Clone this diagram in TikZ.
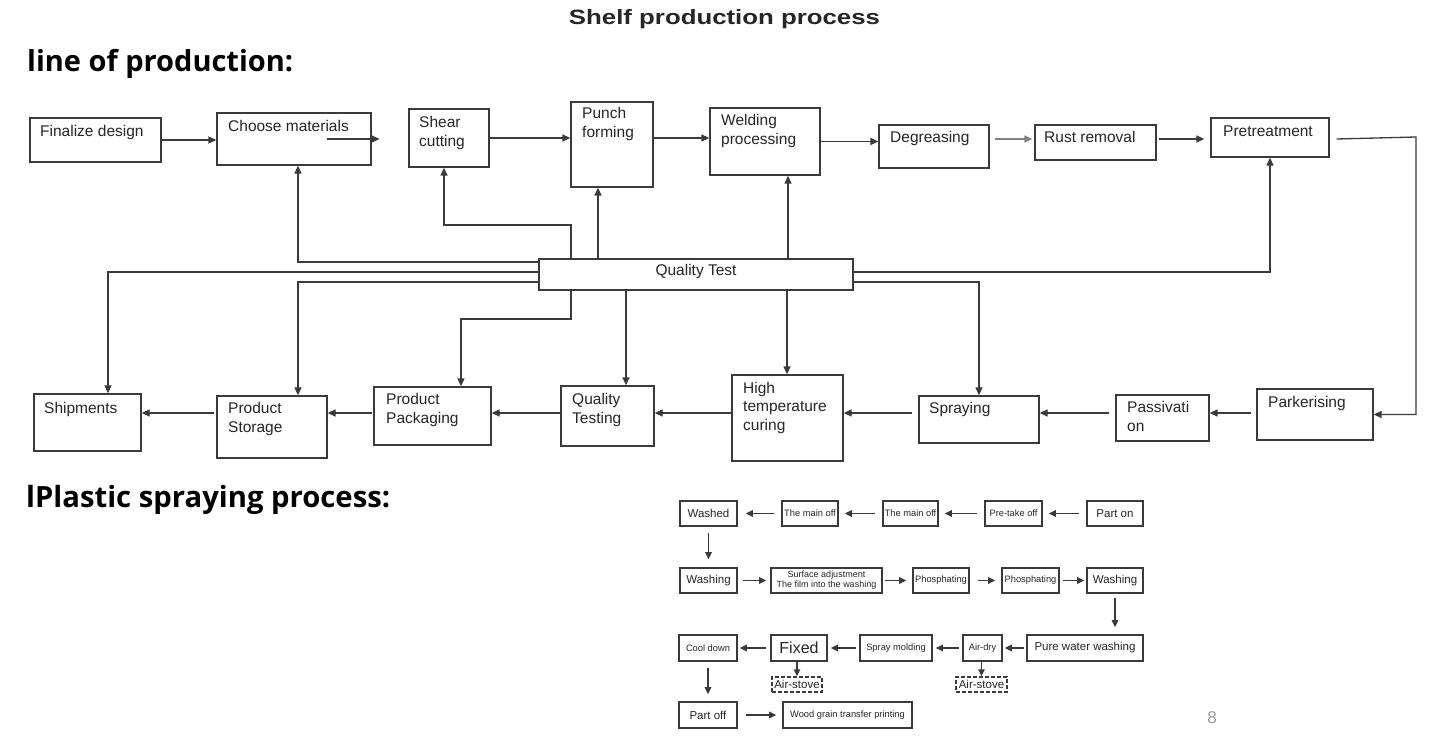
\documentclass[tikz,border=0pt]{standalone}
\usepackage{graphicx}
\usepackage{fontspec}
\setmainfont{Liberation Sans}
\newfontfamily\hdfont{Open Sans}
\usetikzlibrary{arrows.meta,fit,calc}
\definecolor{ln}{HTML}{3A3A3A}
\definecolor{tx}{HTML}{262626}
\definecolor{pg}{HTML}{9A9A9A}
\newcommand\twol[2]{\vtop{\baselineskip=19pt\hbox{#1}\hbox{#2}}}
\newcommand\threel[3]{\vtop{\baselineskip=18.5pt\hbox{#1}\hbox{#2}\hbox{#3}}}
\begin{document}
\begin{tikzpicture}[x=1pt,y=-1pt,
  box/.style={draw=ln, line width=1.3pt, inner sep=0pt},
  txt/.style={anchor=base west, inner sep=0pt, text=tx, font=\fontsize{15.5}{19}\selectfont},
  arr/.style={draw=ln, line width=1.3pt, -{Triangle[length=8pt,width=7pt]}},
  garr/.style={draw=gray, line width=1.3pt, -{Triangle[length=8pt,width=7pt]}},
  sbox/.style={draw=ln, line width=1.7pt, inner sep=0pt, text=tx},
  dbox/.style={draw=ln, line width=1.5pt, dash pattern=on 4pt off 2pt, inner sep=0pt, text=tx, font=\fontsize{11.5}{13}\selectfont, minimum height=15pt},
  sarr/.style={draw=ln, line width=1.3pt, -{Triangle[length=7pt,width=6.5pt]}},
  fA/.style={font=\fontsize{11.5}{13}\selectfont},
  fB/.style={font=\fontsize{9.3}{10}\selectfont},
  rA/.style={minimum height=25pt},
  rB/.style={minimum height=26pt},
]
\fill[white] (0,0) rectangle (1433,746);
\useasboundingbox (0,0) rectangle (1433,746);

% headings
\node[anchor=base, inner sep=0pt, text=tx] (title) at (724.5,25) {\resizebox{311pt}{15pt}{\bfseries Shelf production process}};
\node[anchor=base west, inner sep=0pt, text=black] (h1) at (27,72) {\resizebox{266pt}{!}{\fontsize{28}{30}\hdfont\bfseries line of production:}};
\node[anchor=base west, inner sep=0pt, text=black] (h2) at (26,507) {\resizebox{364pt}{!}{\fontsize{28}{30}\hdfont\bfseries lPlastic spraying process:}};

% top row
\node[box, fit={(30,118) (161,162)}] (fin) {};
\node[txt] (fin-t) at (40,137) {Finalize design};
\node[box, fit={(217,113) (371,165)}] (cho) {};
\node[txt] (cho-t) at (228,132) {Choose materials};
\node[box, fit={(409,109) (489,167)}] (she) {};
\node[txt] (she-t) at (419,128) {\twol{Shear}{cutting}};
\node[box, fit={(571,102) (653,187)}] (pun) {};
\node[txt] (pun-t) at (582,119) {\twol{Punch}{forming}};
\node[box, fit={(710,108) (820,175)}] (wel) {};
\node[txt] (wel-t) at (721,126) {\twol{Welding}{processing}};
\node[box, fit={(879,125) (989,168)}] (deg) {};
\node[txt] (deg-t) at (890,143) {Degreasing};
\node[box, fit={(1035,125) (1156,160)}] (rus) {};
\node[txt] (rus-t) at (1044,143) {Rust removal};
\node[box, fit={(1211,118) (1329,157)}] (pre) {};
\node[txt] (pre-t) at (1223,137) {Pretreatment};

% quality test
\node[box, fit={(539,259) (853,290)}] (qt) {};
\node[txt, anchor=base] (qt-t) at (696,276) {Quality Test};

% bottom row
\node[box, fit={(34,394) (141,451)}] (shi) {};
\node[txt] (shi-t) at (44,413) {Shipments};
\node[box, fit={(217,396) (327,458)}] (sto) {};
\node[txt] (sto-t) at (228,413) {\twol{Product}{Storage}};
\node[box, fit={(374,387) (491,445)}] (pac) {};
\node[txt] (pac-t) at (386,404) {\twol{Product}{Packaging}};
\node[box, fit={(561,386) (654,446)}] (qts) {};
\node[txt] (qts-t) at (572,404) {\twol{Quality}{Testing}};
\node[box, fit={(732,375) (843,461)}] (htc) {};
\node[txt] (htc-t) at (743,393) {\threel{High}{temperature}{curing}};
\node[box, fit={(919,396) (1039,443)}] (spr) {};
\node[txt] (spr-t) at (929,413) {Spraying};
\node[box, fit={(1116,395) (1209,441)}] (pas) {};
\node[txt] (pas-t) at (1127,412) {\twol{Passivati}{on}};
\node[box, fit={(1257,389) (1373,440)}] (par) {};
\node[txt] (par-t) at (1268,407) {Parkerising};

% top row arrows
\coordinate (ar) at (0,139);
\draw[arr] (fin.east) -- (cho.west |- fin.east);
\draw[arr] ($(cho.east)+(-45,0)$) -- ($(cho.east)+(8,0)$);
\draw[arr] (she.east) -- (pun.west |- she.east);
\draw[arr] (pun.east |- she.east) -- (wel.west |- she.east);
\draw[arr] (wel.east) -- (deg.west |- wel.east);
\draw[garr] ($(deg.east |- ar)+(5,0)$) -- ($(rus.west |- ar)+(-2,0)$);
\draw[arr] ($(rus.east |- ar)+(2,0)$) -- ($(pre.west |- ar)+(-6,0)$);
\coordinate (rc) at (1416,137);
\draw[arr] ($(pre.east |- ar)+(7,0)$) -- (rc) |- (par.east);

% quality test connectors
\coordinate (l1) at (298,262);
\coordinate (l2) at (108,272);
\coordinate (l3) at (298,282);
\draw[arr] (qt.west |- l1) -| (cho.south -| l1);
\draw[arr] (qt.west |- l2) -| (shi.north -| l2);
\draw[arr] (qt.west |- l3) -| (sto.north -| l3);
\coordinate (t1) at (571,225);
\coordinate (t1b) at (444,225);
\coordinate (t2) at (598,0);
\coordinate (t3) at (788,0);
\draw[arr] (qt.north -| t1) -- (t1) -- (t1b) -- (she.south -| t1b);
\draw[arr] (qt.north -| t2) -- (pun.south -| t2);
\draw[arr] (qt.north -| t3) -- (wel.south -| t3);
\coordinate (b1) at (571,319);
\coordinate (b1b) at (461,319);
\coordinate (b2) at (626,0);
\coordinate (b3) at (787,0);
\draw[arr] (qt.south -| b1) -- (b1) -- (b1b) -- (pac.north -| b1b);
\draw[arr] (qt.south -| b2) -- (qts.north -| b2);
\draw[arr] (qt.south -| b3) -- (htc.north -| b3);
\coordinate (r1) at (1270,272);
\coordinate (r2) at (979,282);
\draw[arr] (qt.east |- r1) -| (pre.south -| r1);
\draw[arr] (qt.east |- r2) -| (spr.north -| r2);

% bottom row arrows
\coordinate (by) at (0,413);
\draw[arr] ($(par.west |- by)+(-5,0)$) -- (pas.east |- by);
\draw[arr] ($(pas.west |- by)+(-6,0)$) -- (spr.east |- by);
\draw[arr] ($(spr.west |- by)+(-6,0)$) -- (htc.east |- by);
\draw[arr] (htc.west |- by) -- (qts.east |- by);
\draw[arr] (qts.west |- by) -- (pac.east |- by);
\draw[arr] ($(pac.west |- by)+(-1,0)$) -- (sto.east |- by);
\draw[arr] ($(sto.west |- by)+(-2,0)$) -- (shi.east |- by);

% plastic spraying process
\node[sbox, fA, rA, minimum width=57pt] (s-wd) at (708.5,513.5) {Washed};
\node[sbox, fB, rA, minimum width=56pt] (s-m1) at (810,513.5) {The main off};
\node[sbox, fB, rA, minimum width=55pt] (s-m2) at (910.5,513.5) {The main off};
\node[sbox, fB, rA, minimum width=57pt] (s-pt) at (1013.5,513.5) {Pre-take off};
\node[sbox, fA, rA, minimum width=56pt] (s-po) at (1115,513.5) {Part on};

\node[sbox, fA, rA, minimum width=57pt] (s-wg) at (708.5,580.5) {Washing};
\node[sbox, rA, minimum width=111pt, align=center, font=\fontsize{9}{9.8}\selectfont] (s-sa) at (826.5,580.5) {Surface adjustment\\The film into the washing};
\node[sbox, fB, rA, minimum width=56pt] (s-p1) at (941,580.5) {Phosphating};
\node[sbox, fB, rA, minimum width=57pt] (s-p2) at (1030.5,580.5) {Phosphating};
\node[sbox, fA, rA, minimum width=56pt] (s-w2) at (1115,580.5) {Washing};

\node[sbox, fB, rB, minimum width=58pt] (s-cd) at (708,648) {Cool down};
\node[sbox, rB, minimum width=56pt, font=\fontsize{16}{18}\selectfont] (s-fx) at (799,648) {Fixed};
\node[sbox, fB, rB, minimum width=72pt] (s-sm) at (896,648) {Spray molding};
\node[sbox, fB, rB, minimum width=39pt] (s-ad) at (982.5,648) {Air-dry};
\node[sbox, fA, rB, minimum width=116pt] (s-pw) at (1085,648) {Pure water washing};

\node[dbox, minimum width=50pt] (s-as1) at (797,684.5) {Air-stove};
\node[dbox, minimum width=51pt] (s-as2) at (981.5,684.5) {Air-stove};

\node[sbox, fA, rB, minimum width=58pt] (s-pf) at (708,715) {Part off};
\node[sbox, fB, rB, minimum width=129pt] (s-wo) at (847.5,715) {Wood grain transfer printing};

\draw[sarr, shorten <=7pt, shorten >=6pt] (s-po.west) -- (s-pt.east);
\draw[sarr, shorten <=7pt, shorten >=6pt] (s-pt.west) -- (s-m2.east);
\draw[sarr, shorten <=7pt, shorten >=6pt] (s-m2.west) -- (s-m1.east);
\draw[sarr, shorten <=7pt, shorten >=8pt] (s-m1.west) -- (s-wd.east);
\draw[sarr, shorten <=6pt, shorten >=8pt] (s-wd.south) -- (s-wg.north);
\draw[sarr, shorten <=5pt, shorten >=4pt] (s-wg.east) -- (s-sa.west);
\draw[sarr, shorten <=2pt, shorten >=6pt] (s-sa.east) -- (s-p1.west);
\draw[sarr, shorten <=8pt, shorten >=6pt] (s-p1.east) -- (s-p2.west);
\draw[sarr, shorten <=3pt, shorten >=2pt] (s-p2.east) -- (s-w2.west);
\draw[sarr, shorten <=4pt, shorten >=7pt] (s-w2.south) -- (s-pw.north -| s-w2.south);
\draw[sarr, shorten <=2pt, shorten >=2pt] (s-pw.west) -- (s-ad.east);
\draw[sarr, shorten <=3pt, shorten >=3pt] (s-ad.west) -- (s-sm.east);
\draw[sarr, shorten <=3pt, shorten >=3pt] (s-sm.west) -- (s-fx.east);
\draw[sarr, shorten <=4pt, shorten >=2pt] (s-fx.west) -- (s-cd.east);
\draw[sarr] (s-fx.south -| s-as1.north) -- (s-as1.north);
\draw[sarr] (s-ad.south -| s-as2.north) -- (s-as2.north);
\draw[sarr, shorten <=6pt, shorten >=7pt] (s-cd.south) -- (s-pf.north);
\draw[sarr, shorten <=8pt, shorten >=6pt] (s-pf.east) -- (s-wo.west);

\node[text=pg, font=\fontsize{17}{19}\selectfont, inner sep=0pt] (pgnum) at (1212,718) {8};
\end{tikzpicture}
\end{document}
